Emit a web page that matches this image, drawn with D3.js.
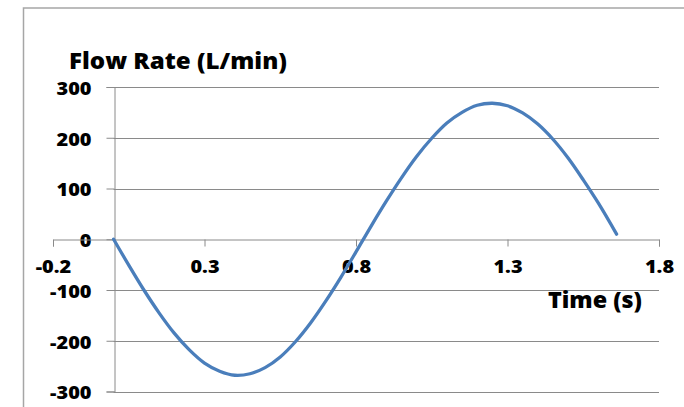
<!DOCTYPE html>
<html>
<head>
<meta charset="utf-8">
<script src="https://cdn.jsdelivr.net/npm/d3@7"></script>
<style>
  html, body { margin: 0; padding: 0; background: #fff; }
  svg { display: block; }
  text { font-family: "Open Sans", "DejaVu Sans", sans-serif; font-weight: 800; fill: #000; }
</style>
</head>
<body>
<svg id="chart" width="684" height="407"></svg>
<script>
// Sampled flow waveform: time in seconds, flow in L/min
const time = [0, 0.05, 0.10, 0.15, 0.20, 0.25, 0.30, 0.35, 0.40, 0.45, 0.50, 0.55, 0.60, 0.65, 0.70, 0.75, 0.80,
              0.85, 0.90, 0.95, 1.00, 1.05, 1.10, 1.15, 1.20, 1.25, 1.30, 1.35, 1.40, 1.45, 1.50, 1.55, 1.60, 1.66];
const flow = [0, -51, -100, -145, -185, -218, -244, -260, -268, -265, -253, -232, -202, -165, -122, -75, -25,
              26, 75, 121, 163, 199, 229, 250, 264, 268, 263, 249, 227, 197, 160, 117, 71, 10];

// Axis ticks
const xTicks = [-0.2, 0.3, 0.8, 1.3, 1.8];
const xTickLabels = ["-0.2", "0.3", "0.8", "1.3", "1.8"];
const yTicks = [300, 200, 100, 0, -100, -200, -300];
const yTickLabels = ["300", "200", "100", "0", "-100", "-200", "-300"];

const yTitle = "Flow Rate (L/min)";
const xTitle = "Time (s)";

const svg = d3.select("#chart");
const gridColor = "#8a8a8a";

// Widen bold labels a little so they sit like the heavier UI font
function widen(sel, factor) {
  sel.each(function () {
    const w = this.getComputedTextLength();
    d3.select(this).attr("textLength", w * factor).attr("lengthAdjust", "spacingAndGlyphs");
  });
}

// Chart frame
svg.append("rect")
  .attr("x", 23.5).attr("y", 8)
  .attr("width", 700).attr("height", 420)
  .attr("fill", "none")
  .attr("stroke", "#a6a6a6")
  .attr("stroke-width", 1.5);

const x = d3.scaleLinear().domain([-0.2, 1.8]).range([53, 659]);
const y = d3.scaleLinear().domain([-300, 300]).range([391.5, 87]);

// Horizontal gridlines (zero line is drawn by the x axis)
svg.append("g")
  .selectAll("line")
  .data(yTicks.filter(v => v !== 0))
  .join("line")
  .attr("x1", x(0)).attr("x2", x(1.8))
  .attr("y1", d => Math.round(y(d)) + 0.5).attr("y2", d => Math.round(y(d)) + 0.5)
  .attr("stroke", gridColor).attr("stroke-width", 1);

// Y axis crossing at time 0
const yAxis = d3.axisLeft(y)
  .tickValues(yTicks)
  .tickSize(8)
  .tickPadding(15)
  .tickFormat((d, i) => yTickLabels[i]);

const gy = svg.append("g")
  .attr("transform", `translate(${Math.round(x(0)) + 0.5},0)`)
  .call(yAxis);
gy.select(".domain").attr("stroke", gridColor);
gy.selectAll(".tick line").attr("stroke", gridColor);
gy.selectAll(".tick text")
  .attr("font-size", 17.5)
  .attr("dy", "0.42em")
  .style("font-family", "'Open Sans', sans-serif")
  .style("font-weight", 800)
  .attr("fill", "#000")
  .call(widen, 1.14);

// X axis along flow = 0
const xAxis = d3.axisBottom(x)
  .tickValues(xTicks)
  .tickSize(7)
  .tickPadding(14)
  .tickFormat((d, i) => xTickLabels[i]);

const gx = svg.append("g")
  .attr("transform", `translate(0,${Math.round(y(0)) + 0.5})`)
  .call(xAxis);
gx.select(".domain").attr("stroke", gridColor);
gx.selectAll(".tick line").attr("stroke", gridColor);
gx.selectAll(".tick text")
  .attr("font-size", 17.5)
  .style("font-family", "'Open Sans', sans-serif")
  .style("font-weight", 800)
  .attr("fill", "#000")
  .call(widen, 1.14);

// Axis titles
svg.append("text")
  .attr("x", 69).attr("y", 69)
  .attr("font-size", 22.5)
  .attr("textLength", 218)
  .attr("lengthAdjust", "spacingAndGlyphs")
  .text(yTitle);

svg.append("text")
  .attr("x", 548).attr("y", 308)
  .attr("font-size", 22.5)
  .attr("textLength", 94)
  .attr("lengthAdjust", "spacingAndGlyphs")
  .text(xTitle);

// Flow curve
const line = d3.line()
  .x((d, i) => x(time[i]))
  .y(d => y(d))
  .curve(d3.curveCatmullRom.alpha(0.5));

svg.append("path")
  .datum(flow)
  .attr("d", line)
  .attr("fill", "none")
  .attr("stroke", "#4a7ebb")
  .attr("stroke-width", 3.3)
  .attr("stroke-linejoin", "round")
  .attr("stroke-linecap", "round");
</script>
</body>
</html>
